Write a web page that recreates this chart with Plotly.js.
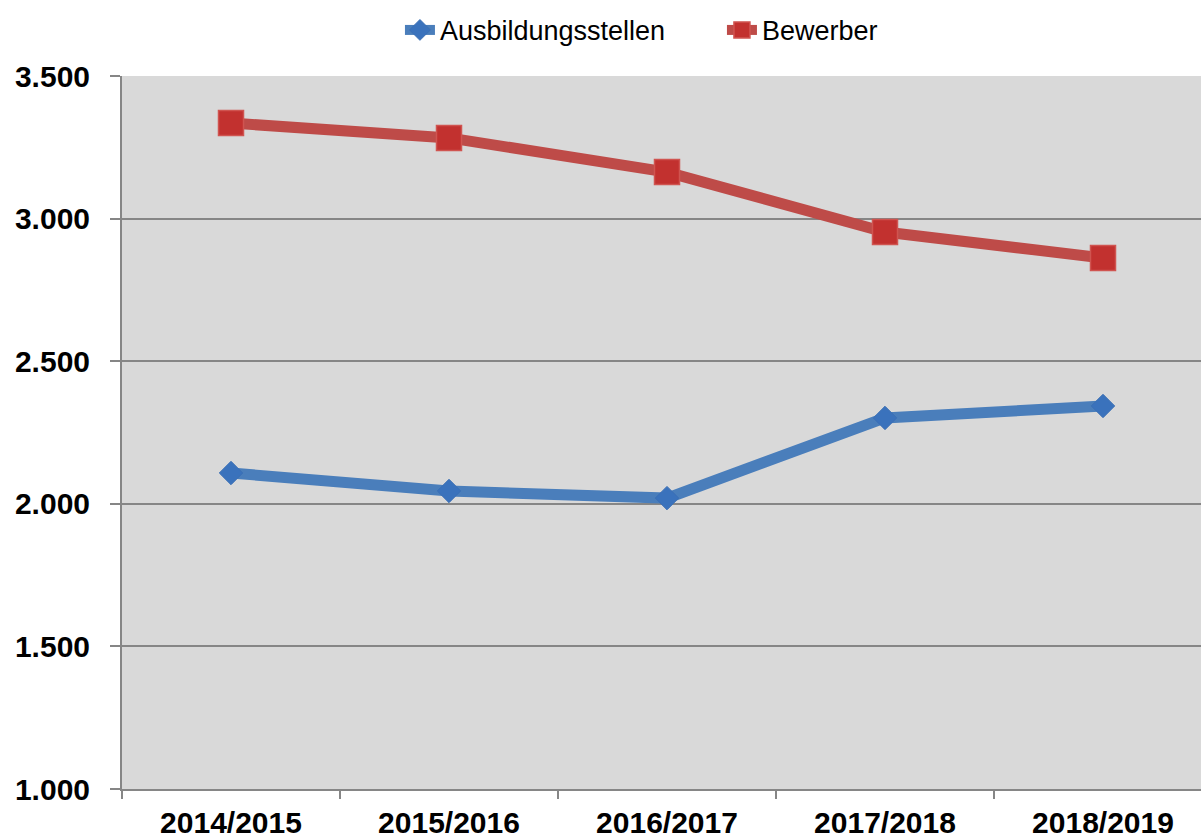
<!DOCTYPE html>
<html>
<head>
<meta charset="utf-8">
<script src="https://cdn.plot.ly/plotly-3.0.1.min.js"></script>
<style>
html,body{margin:0;padding:0;overflow:hidden;background:#fff;}
#chart{width:1215px;height:840px;}
</style>
</head>
<body>
<div id="chart"></div>
<script>
const categories = ["2014/2015", "2015/2016", "2016/2017", "2017/2018", "2018/2019"];
const ausbildungsstellen = [2108, 2045, 2020, 2301, 2343];
const bewerber = [3335, 3283, 3163, 2953, 2862];
const seriesNames = ["Ausbildungsstellen", "Bewerber"];

const traces = [
  {
    x: categories, y: ausbildungsstellen, name: seriesNames[0],
    type: "scatter", mode: "lines+markers",
    line: {color: "#4a7ebb", width: 11},
    marker: {symbol: "diamond", size: 18, color: "#3a72bc", line: {color: "#3a6fb5", width: 1}}
  },
  {
    x: categories, y: bewerber, name: seriesNames[1],
    type: "scatter", mode: "lines+markers",
    line: {color: "#be4b48", width: 11},
    marker: {symbol: "square", size: 25, color: "#c2312f", line: {color: "#d05450", width: 1.5}}
  }
];

const layout = {
  width: 1215, height: 840,
  margin: {l: 122, r: 3, t: 76, b: 51},
  paper_bgcolor: "#ffffff",
  plot_bgcolor: "#d9d9d9",
  separators: ",.",
  font: {family: "Liberation Sans, Arial, sans-serif", color: "#000"},
  showlegend: true,
  legend: {
    orientation: "h", xref: "paper", yref: "container",
    x: 0.255, xanchor: "left", y: 0.993, yanchor: "top",
    font: {size: 27, family: "Liberation Sans, Arial, sans-serif", color: "#000"},
    itemwidth: 30, tracegroupgap: 0, traceorder: "normal",
    entrywidth: 277, entrywidthmode: "pixels",
    bgcolor: "rgba(0,0,0,0)"
  },
  xaxis: {
    type: "category", range: [-0.5, 4.5], fixedrange: true,
    showgrid: false, zeroline: false,
    showline: true, linecolor: "#868686", linewidth: 2,
    ticks: "outside", tickson: "boundaries", ticklen: 8, tickwidth: 2, tickcolor: "#868686",
    tickfont: {size: 30, family: "Liberation Sans, Arial, sans-serif", color: "#000", weight: "bold"},
    ticklabelstandoff: 6
  },
  yaxis: {
    range: [1000, 3500], dtick: 500, tick0: 1000, tickformat: ",d",
    showgrid: true, gridcolor: "#868686", gridwidth: 2, zeroline: false,
    showline: true, linecolor: "#868686", linewidth: 2,
    ticks: "outside", ticklen: 10, tickwidth: 2, tickcolor: "#868686",
    tickfont: {size: 30, family: "Liberation Sans, Arial, sans-serif", color: "#000", weight: "bold"},
    ticklabelstandoff: 14
  }
};

Plotly.newPlot("chart", traces, layout, {displayModeBar: false, staticPlot: true});
</script>
</body>
</html>
